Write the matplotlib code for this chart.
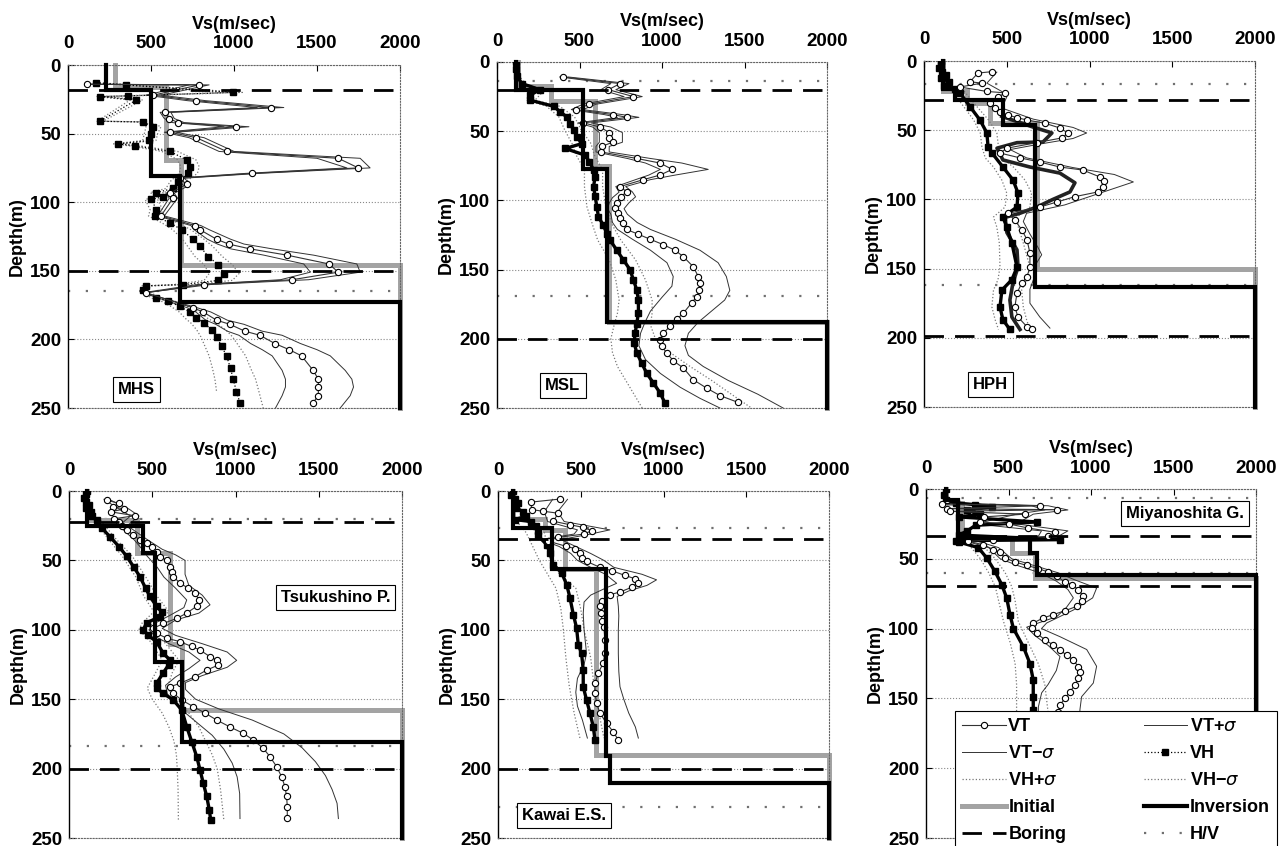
import matplotlib
matplotlib.use('Agg')
import matplotlib.pyplot as plt
from matplotlib.lines import Line2D

plt.rcParams['font.family'] = ['Liberation Sans', 'DejaVu Sans']
plt.rcParams['mathtext.fontset'] = 'dejavusans'

VS_TICKS = [0, 500, 1000, 1500, 2000]
DEPTH_TICKS = [0, 50, 100, 150, 200, 250]

# every curve is a list of (depth m, Vs m/s); step profiles are (layer top depth, Vs)

# ---------------- MHS ----------------
MHS_VT = [(14, 115), (14.5, 790), (22, 513), (26, 774), (31, 1220), (34.5, 587), (39, 609), (42, 663),
          (45, 1015), (49, 613), (53, 774), (63, 955), (68, 1628), (75, 1749), (79, 1111), (82.5, 673),
          (87, 714), (93.5, 613), (97, 633), (110, 560), (117, 764), (120, 794), (127, 895), (130.5, 967),
          (134, 1096), (138.6, 1320), (145, 1572), (151, 1628), (156.5, 1351), (160, 818), (166, 470),
          (177, 754), (180, 814), (186, 895), (189, 975), (194, 1065), (197, 1156), (203, 1246),
          (207.5, 1333), (212, 1407), (222.6, 1477), (229, 1508), (234.7, 1508), (241, 1508), (246, 1477)]
MHS_VTP = [(14, 130), (14.5, 850), (22, 560), (26, 830), (31, 1300), (34.5, 620), (39, 640), (42, 700),
           (45, 1090), (49, 650), (53, 820), (63, 1000), (68, 1760), (75, 1820), (79, 1150), (82.5, 700),
           (87, 740), (93.5, 640), (97, 660), (110, 580), (117, 800), (120, 850), (127, 980), (130.5, 1060),
           (134, 1230), (138.6, 1480), (145, 1740), (151, 1760), (156.5, 1450), (160, 860), (166, 460),
           (177, 780), (180, 860), (186, 960), (189, 1060), (194, 1170), (197, 1290), (203, 1400),
           (207.5, 1500), (212, 1580), (222.6, 1670), (229, 1710), (234.7, 1720), (241, 1700), (250, 1640)]
MHS_VTM = [(14, 100), (14.5, 730), (22, 470), (26, 720), (31, 1140), (34.5, 555), (39, 580), (42, 630),
           (45, 940), (49, 580), (53, 730), (63, 910), (68, 1500), (75, 1680), (79, 1070), (82.5, 645),
           (87, 690), (93.5, 590), (97, 610), (110, 540), (117, 740), (120, 760), (127, 840), (130.5, 900),
           (134, 980), (138.6, 1180), (145, 1420), (151, 1460), (156.5, 1280), (160, 780), (166, 450),
           (177, 720), (180, 770), (186, 830), (189, 890), (194, 960), (197, 1030), (203, 1100),
           (207.5, 1170), (212, 1230), (222.6, 1290), (229, 1310), (234.7, 1310), (241, 1290), (250, 1250)]
MHS_VH = [(13, 171), (14.5, 352), (20, 995), (22.5, 362), (23, 191), (25.5, 412), (41, 191), (41.5, 452),
          (45, 513), (50, 500), (55, 490), (57.5, 302), (59, 406), (63, 613), (69, 714), (74, 734), (79, 724),
          (85, 663), (90, 633), (93, 533), (96, 573), (98, 503), (105.6, 533), (110, 523), (115, 613),
          (120, 684), (127, 754), (132, 794), (139.6, 845), (145.6, 905), (152, 939), (157, 905), (160, 694),
          (161, 472), (164, 452), (170, 533), (172, 603), (176, 673), (180, 734), (184.5, 774), (188, 818),
          (193, 865), (198, 895), (205, 925), (212, 955), (221, 979), (229, 995), (238, 1015), (246, 1035)]
MHS_VHP = [(13, 190), (14.5, 390), (20, 1050), (22.5, 400), (23, 210), (25.5, 450), (41, 210), (41.5, 490),
           (45, 560), (50, 540), (55, 530), (57.5, 330), (59, 440), (63, 660), (69, 770), (74, 790), (79, 780),
           (85, 710), (90, 680), (93, 570), (96, 610), (98, 540), (105.6, 570), (110, 560), (115, 660),
           (120, 740), (127, 820), (132, 870), (139.6, 930), (145.6, 990), (152, 1030), (157, 990), (160, 750),
           (161, 500), (164, 470), (170, 560), (172, 640), (176, 720), (180, 790), (184.5, 840), (188, 890),
           (193, 950), (198, 990), (205, 1030), (212, 1070), (221, 1100), (229, 1130), (238, 1150), (250, 1176)]
MHS_VHM = [(13, 150), (14.5, 320), (20, 940), (22.5, 330), (23, 175), (25.5, 375), (41, 175), (41.5, 415),
           (45, 470), (50, 460), (55, 450), (57.5, 275), (59, 375), (63, 565), (69, 660), (74, 680), (79, 670),
           (85, 615), (90, 590), (93, 495), (96, 535), (98, 465), (105.6, 495), (110, 485), (115, 565),
           (120, 630), (127, 690), (132, 720), (139.6, 765), (145.6, 820), (152, 850), (157, 820), (160, 640),
           (161, 445), (164, 435), (170, 505), (172, 560), (176, 620), (180, 670), (184.5, 705), (188, 740),
           (193, 775), (198, 800), (205, 825), (212, 850), (221, 870), (229, 885), (238, 895)]
MHS_INIT = [(0, 281), (16, 593), (69, 683), (146, 2000)]
MHS_INV = [(0, 227), (18, 503), (81, 673), (173, 2000)]
MHS_BORING = [18, 150]
MHS_HV = [165]

# ---------------- MSL ----------------
MSL_VT = [(10.8, 403), (15.6, 746), (20, 675), (25, 827), (30.5, 560), (34.4, 480), (38, 700), (40, 790),
          (44, 524), (47, 625), (51, 680), (55, 680), (58, 700), (61, 635), (65, 631), (69.7, 847), (73, 988),
          (77.6, 1062), (81.7, 988), (85, 887), (90, 746), (93.8, 786), (97.4, 750), (101.7, 726),
          (105.8, 716), (109, 736), (113, 746), (116.6, 766), (121, 786), (124.5, 857), (128, 927),
          (132, 1008), (136, 1079), (140.6, 1129), (148, 1190), (155, 1220), (160, 1230), (164.7, 1226),
          (169.5, 1210), (174, 1180), (181.5, 1129), (186, 1089), (191, 1048), (196, 1008), (200.7, 988),
          (205.5, 998), (210, 1028), (216, 1069), (221, 1129), (229.6, 1190), (235.6, 1270), (241, 1351),
          (246, 1462)]
MSL_VTP = [(10.8, 430), (15.6, 800), (20, 720), (25, 880), (30.5, 600), (34.4, 520), (38, 760), (40, 860),
           (44, 570), (47, 690), (51, 760), (55, 760), (58, 760), (61, 680), (65, 680), (69.7, 930), (73, 1120),
           (77.6, 1280), (81.7, 1080), (85, 930), (90, 780), (93.8, 820), (97.4, 840), (101.7, 800), (106, 770),
           (110, 790), (116, 850), (121, 930), (128, 1080), (136, 1230), (145, 1340), (155, 1390), (165, 1411),
           (172, 1380), (180, 1300), (188, 1220), (196, 1160), (205, 1139), (212, 1160), (220, 1250),
           (230, 1400), (240, 1580), (250, 1734)]
MSL_VTM = [(10.8, 380), (15.6, 690), (20, 630), (25, 770), (30.5, 520), (34.4, 450), (38, 650), (40, 730),
           (44, 490), (47, 580), (51, 620), (55, 620), (58, 620), (61, 600), (65, 600), (69.7, 790), (73, 900),
           (77.6, 990), (81.7, 920), (85, 840), (90, 720), (94, 740), (98, 700), (102, 680), (106, 670),
           (110, 690), (116, 700), (121, 730), (128, 820), (136, 930), (145, 1030), (155, 1068), (162, 1060),
           (170, 1000), (180, 930), (188, 897), (196, 870), (205, 860), (215, 900), (225, 990), (235, 1110),
           (243, 1230), (250, 1351)]
MSL_VH = [(0, 117), (5, 117), (10, 120), (15.6, 151), (20, 260), (24, 200), (27.6, 202), (32, 343), (36, 383),
          (39.7, 423), (44.5, 444), (49, 464), (54, 484), (59, 514), (62.5, 413), (67.3, 534), (72, 560),
          (78, 585), (83, 595), (90, 585), (97, 595), (104.6, 605), (112, 615), (118, 645), (124, 665),
          (128.6, 685), (136, 726), (143, 766), (150, 806), (157.5, 827), (164.7, 847), (172, 857),
          (181.5, 857), (189, 847), (196, 837), (203, 831), (210, 847), (217.6, 877), (224.8, 907), (232, 948),
          (239, 988), (246.4, 1018)]
MSL_VHP = [(0, 130), (10, 135), (15.6, 170), (20, 290), (27.6, 230), (32, 380), (39.7, 470), (49, 510),
           (59, 570), (67.3, 590), (78, 640), (90, 640), (104.6, 660), (118, 700), (128.6, 750), (143, 840),
           (157.5, 900), (172, 940), (181.5, 940), (190, 930), (200, 960), (210, 1050), (220, 1170), (230, 1300),
           (240, 1420), (250, 1542)]
MSL_VHM = [(0, 105), (10, 108), (15.6, 135), (20, 230), (27.6, 180), (32, 300), (39.7, 375), (49, 410),
           (59, 455), (67.3, 480), (78, 530), (90, 530), (104.6, 545), (118, 580), (128.6, 610), (143, 680),
           (157.5, 720), (172, 740), (181.5, 730), (190, 710), (200, 690), (210, 700), (220, 730), (230, 780),
           (240, 830), (250, 880)]
MSL_INIT = [(0, 125), (17, 330), (28, 594), (75, 680), (188, 2000)]
MSL_INV = [(0, 117), (20, 524), (77, 665), (188, 2000)]
MSL_BORING = [20, 200]
MSL_HV = [14, 169]

# ---------------- HPH ----------------
HPH_VT = [(7.7, 411), (8.7, 326), (15, 278), (16, 350), (18.8, 217), (22, 380), (23, 489), (26, 450),
          (30, 399), (34, 429), (37, 459), (39, 507), (41, 562), (42.6, 622), (45, 731), (48.4, 821), (52, 870),
          (55.6, 833), (59, 680), (63, 501), (66.5, 459), (70, 580), (73, 700), (76.6, 821), (78.8, 960),
          (83.8, 1063), (87, 1090), (91, 1081), (94.6, 1051), (98, 912), (101.9, 803), (105.5, 700), (110, 507),
          (115, 549), (122, 591), (129, 622), (138.7, 640), (149, 640), (156, 622), (160.4, 591), (167.6, 562),
          (177.7, 549), (185, 568), (192, 622), (194, 652)]
HPH_VTP = [(8, 440), (16, 380), (22, 470), (26, 500), (34, 470), (42, 660), (48, 900), (52, 983), (56, 900),
           (60, 700), (64, 520), (70, 620), (77, 900), (82, 1150), (87.4, 1265), (92, 1150), (98, 1000),
           (104, 850), (110, 620), (116, 600), (125, 640), (135, 690), (140, 711), (146, 680), (155, 670),
           (165, 640), (175, 640), (185, 700), (193, 761)]
HPH_VTM = [(40, 470), (47.7, 658), (52, 773), (58.5, 719), (59, 562), (63, 441), (71.5, 477), (76.6, 640),
           (81, 821), (88, 912), (94.6, 882), (100, 779), (105.5, 682), (110, 580), (113, 490), (124, 501),
           (136.5, 562), (149, 568), (160, 538), (172.7, 519), (185, 531), (194, 580)]
HPH_VH = [(0, 100), (3, 100), (5, 90), (8, 110), (10, 130), (12, 100), (15, 150), (18, 120), (20, 190),
          (23, 217), (33, 278), (42.6, 338), (52, 380), (62, 387), (66.5, 411), (76.6, 477), (86, 538),
          (95.4, 568), (105.5, 562), (112.7, 477), (120, 500), (131.5, 531), (149, 562), (158, 531),
          (165.5, 471), (177.7, 459), (187, 477), (194, 519)]
HPH_VHP = [(20, 230), (33, 320), (42.6, 390), (52, 440), (62, 450), (70, 470), (76.6, 540), (86, 610),
           (95.4, 650), (105.5, 640), (112.7, 560), (120, 570), (131.5, 600), (149, 640), (158, 620),
           (165.5, 590), (177.7, 600), (187, 620), (194, 640)]
HPH_VHM = [(20, 160), (33, 240), (42.6, 300), (52, 340), (62, 350), (70, 370), (76.6, 420), (86, 470),
           (95.4, 500), (105.5, 490), (112.7, 420), (120, 440), (131.5, 455), (149, 459), (158, 447),
           (165.5, 420), (177.7, 410), (187, 430), (194, 450)]
HPH_INIT = [(0, 117), (22, 260), (30, 400), (45, 680), (150, 2000)]
HPH_INV = [(0, 117), (20, 187), (28.5, 480), (46.5, 671), (163, 2000)]
HPH_BORING = [28, 199]
HPH_HV = [16.4, 161.5]

# ---------------- Tsukushino P. ----------------
TSU_VT = [(6.5, 226), (9, 300), (11.3, 266), (13, 330), (15, 250), (17.8, 396), (20, 270), (22, 300),
          (25, 320), (28, 346), (31.7, 386), (35.3, 426), (37.7, 466), (40, 497), (43.7, 527), (47.3, 547),
          (50, 587), (54.5, 607), (58, 617), (61.7, 627), (66.5, 667), (70, 717), (73.7, 757), (78.5, 781),
          (83, 767), (88, 707), (91.8, 647), (95.4, 567), (99, 506), (102.6, 526), (106, 587), (108.6, 667),
          (112, 737), (114.6, 787), (119.4, 847), (121.8, 887), (125.4, 897), (129, 827), (133.8, 757),
          (138.6, 667), (141, 607), (145.8, 627), (150.6, 677), (155.4, 747), (160, 817), (165, 887),
          (170, 967), (174.6, 1047), (179.4, 1107), (185.4, 1167), (191.4, 1207), (198.6, 1247), (205.9, 1277),
          (213, 1297), (220, 1307), (227.5, 1311), (235.9, 1311)]
TSU_VTP = [(6, 240), (13, 360), (18, 420), (25, 350), (35, 470), (42, 560), (46, 640), (50, 697), (60, 697),
           (68, 720), (75, 800), (82, 847), (88, 780), (93, 640), (99, 560), (104, 640), (110, 800), (116, 950),
           (122, 1007), (127, 950), (133, 800), (138, 700), (143, 700), (150, 760), (157, 900), (165, 1100),
           (175, 1290), (185, 1400), (195, 1480), (205, 1540), (215, 1580), (225, 1610), (236, 1618)]
TSU_VTM = [(6, 210), (13, 300), (18, 370), (25, 300), (35, 390), (42, 440), (47, 470), (55, 530), (62, 570),
           (70, 640), (78.5, 707), (84, 690), (90, 600), (95, 520), (100, 480), (105, 520), (110, 600),
           (116, 720), (122, 787), (128, 720), (134, 640), (140, 580), (146, 590), (152, 630), (160, 700),
           (168, 780), (176, 860), (186, 930), (196, 980), (206, 1010), (218, 1025), (236, 1027)]
TSU_VH = [(0, 110), (2, 100), (5, 90), (8, 100), (10, 120), (12, 100), (15, 130), (18, 140), (21, 166),
          (27, 200), (33, 246), (40, 300), (47, 346), (55, 390), (61.7, 426), (70, 460), (76, 486), (83, 526),
          (87, 556), (90.5, 546), (95, 466), (100, 446), (104, 476), (108.6, 526), (117, 566), (121.8, 607),
          (125, 600), (131, 566), (138.6, 526), (142, 526), (145.8, 566), (150.6, 627), (157.8, 677),
          (169.8, 707), (180.6, 737), (191.4, 767), (201, 787), (210.7, 807), (220, 827), (230, 843), (237, 851)]
TSU_VHP = [(21, 190), (33, 270), (47, 380), (61.7, 460), (76, 530), (87, 600), (95, 500), (100, 480),
           (108.6, 570), (121.8, 660), (131, 620), (142, 590), (150, 640), (160, 720), (170, 780), (180, 820),
           (190, 860), (200, 890), (215, 910), (237, 930)]
TSU_VHM = [(21, 150), (33, 225), (47, 320), (61.7, 400), (76, 450), (87, 510), (95, 440), (100, 420),
           (108.6, 490), (121.8, 560), (131, 520), (142, 470), (150, 500), (160, 560), (170, 600), (180, 630),
           (190, 645), (200, 650), (215, 655), (237, 657)]
TSU_INIT = [(0, 110), (21, 406), (45, 607), (110, 677), (158, 2000)]
TSU_INV = [(0, 110), (25, 446), (45, 516), (123, 677), (180.6, 2000)]
TSU_BORING = [22, 200]
TSU_HV = [20.4, 184]

# ---------------- Kawai E.S. ----------------
KAW_VT = [(5.8, 374), (8, 200), (13.4, 203), (14.6, 274), (16, 364), (21.8, 334), (24.3, 435), (26.2, 515),
          (28.6, 566), (31, 520), (33.4, 364), (36, 300), (39.9, 413), (41.5, 465), (44.7, 495), (48.3, 505),
          (50.7, 535), (55, 616), (57.4, 686), (60.8, 767), (63.2, 827), (66.3, 843), (69.4, 807), (72.8, 737),
          (74.7, 676), (79.5, 626), (83, 616), (87.9, 622), (93.9, 630), (97.8, 640), (107, 646), (117, 646),
          (124, 636), (131, 606), (138.6, 586), (145.8, 586), (153, 596), (160, 616), (167.4, 656),
          (173.4, 696), (179.4, 727)]
KAW_VTP = [(6, 420), (15, 360), (22, 400), (28, 676), (31, 560), (35, 380), (40, 470), (45, 560), (50, 640),
           (55, 700), (60, 870), (64, 958), (68, 900), (72, 790), (76, 720), (83, 727), (90, 730), (100, 727),
           (117, 727), (130, 730), (141, 737), (150, 760), (160, 790), (170, 830), (178, 848)]
KAW_VTM = [(6, 330), (15, 280), (22, 300), (28, 480), (31, 460), (35, 260), (40, 370), (45, 440), (50, 480),
           (55, 560), (60, 650), (66.5, 717), (70, 650), (75, 560), (80, 520), (88, 515), (100, 520),
           (117, 535), (125, 520), (135, 480), (145, 470), (155, 480), (165, 510), (178, 540)]
KAW_VH = [(0, 89), (3, 80), (6, 100), (9, 120), (12, 110), (15, 150), (18, 170), (20.6, 103), (22, 200),
          (25, 230), (29, 243), (32, 240), (38.6, 294), (45, 314), (53, 334), (59, 385), (67.5, 415), (77, 435),
          (89, 455), (98.7, 475), (110.8, 485), (117, 505), (129, 515), (141, 515), (150.6, 535), (160, 556),
          (170, 576), (179.4, 586)]
KAW_VHP = [(20, 140), (30, 280), (40, 300), (50, 330), (60, 370), (70, 470), (85, 500), (100, 520),
           (120, 560), (140, 580), (160, 610), (178, 640)]
KAW_VHM = [(20, 100), (30, 170), (40, 210), (50, 250), (60, 300), (70, 350), (85, 380), (100, 395),
           (120, 410), (140, 430), (160, 460), (178, 495)]
KAW_INIT = [(0, 89), (20, 284), (28, 405), (56, 590), (190, 2000)]
KAW_INV = [(0, 89), (27, 324), (56.5, 650), (191, 676), (210.7, 2000)]
KAW_BORING = [34.5, 200]
KAW_HV = [27, 228]

# ---------------- Miyanoshita G. ----------------
MIY_VT = [(8, 130), (10.7, 95), (12, 691), (14.1, 125), (14.8, 792), (16, 145), (18, 600), (20, 350),
          (23.6, 327), (25, 500), (27.9, 618), (31, 782), (33.9, 741), (36.3, 408), (37.5, 257), (39.9, 347),
          (43.4, 408), (45.4, 448), (49.4, 479), (52.3, 539), (54.7, 610), (57, 681), (59.5, 741), (62.5, 792),
          (66.6, 842), (68.5, 883), (72.1, 923), (76.9, 954), (80.5, 943), (84.1, 913), (87.2, 842), (90, 771),
          (92.4, 710), (96, 650), (99.8, 640), (103.4, 671), (108, 721), (111.8, 772), (115.3, 812), (119, 852),
          (122.5, 893), (127.3, 923), (130.9, 933), (135.6, 923), (140.4, 903), (145.2, 873), (150, 842),
          (154.7, 812), (160, 802), (170, 800)]
MIY_VTP = [(10, 110), (12, 740), (15, 860), (18, 650), (25, 550), (30, 860), (34, 800), (37, 300), (42, 440),
           (50, 520), (55, 660), (60, 800), (65, 900), (71, 1034), (78, 1010), (86.7, 893), (96, 731),
           (100, 700), (105.8, 812), (115, 974), (127, 1034), (139, 1014), (148.8, 943), (158, 933), (170, 930)]
MIY_VTM = [(10, 85), (12, 640), (15, 720), (18, 550), (25, 300), (30, 700), (34, 680), (37, 230), (42, 380),
           (50, 450), (55, 560), (60, 690), (66, 790), (72, 860), (78, 893), (85, 850), (91.5, 792), (96, 680),
           (99, 610), (105, 660), (112, 740), (120, 812), (130, 790), (140, 740), (146, 701), (156, 681),
           (170, 680)]
MIY_VH = [(0, 121), (4, 110), (8, 120), (10, 180), (11.2, 297), (13, 400), (15, 250), (18, 330), (20, 200),
          (23.6, 671), (26, 300), (30, 250), (33, 200), (36.3, 812), (37, 180), (38, 200), (42, 317),
          (49.4, 368), (59, 418), (68.5, 459), (78, 489), (90, 509), (100, 530), (113, 590), (125, 630),
          (136.8, 650), (148.8, 650), (158.3, 650), (170, 650)]
MIY_VHP = [(40, 340), (50, 420), (60, 480), (70, 520), (80, 540), (95, 560), (110, 620), (125, 680),
           (140, 720), (160, 740)]
MIY_VHM = [(40, 260), (50, 330), (60, 380), (70, 420), (80, 440), (95, 470), (110, 510), (125, 540),
           (140, 549), (160, 549)]
MIY_INIT = [(0, 121), (10, 218), (35, 519), (45.8, 660), (64, 2000)]
MIY_INV = [(0, 121), (8, 194), (35, 630), (45.8, 671), (61.8, 2000)]
MIY_BORING = [34, 69.5]
MIY_HV = [6.5, 60.5]

SITES = [
    dict(name='MHS', vt=MHS_VT, vtp=MHS_VTP, vtm=MHS_VTM, vh=MHS_VH, vhp=MHS_VHP, vhm=MHS_VHM,
         init=MHS_INIT, inv=MHS_INV, boring=MHS_BORING, hv=MHS_HV),
    dict(name='MSL', vt=MSL_VT, vtp=MSL_VTP, vtm=MSL_VTM, vh=MSL_VH, vhp=MSL_VHP, vhm=MSL_VHM,
         init=MSL_INIT, inv=MSL_INV, boring=MSL_BORING, hv=MSL_HV),
    dict(name='HPH', vt=HPH_VT, vtp=HPH_VTP, vtm=HPH_VTM, vh=HPH_VH, vhp=HPH_VHP, vhm=HPH_VHM,
         init=HPH_INIT, inv=HPH_INV, boring=HPH_BORING, hv=HPH_HV),
    dict(name='Tsukushino P.', vt=TSU_VT, vtp=TSU_VTP, vtm=TSU_VTM, vh=TSU_VH, vhp=TSU_VHP, vhm=TSU_VHM,
         init=TSU_INIT, inv=TSU_INV, boring=TSU_BORING, hv=TSU_HV),
    dict(name='Kawai E.S.', vt=KAW_VT, vtp=KAW_VTP, vtm=KAW_VTM, vh=KAW_VH, vhp=KAW_VHP, vhm=KAW_VHM,
         init=KAW_INIT, inv=KAW_INV, boring=KAW_BORING, hv=KAW_HV),
    dict(name='Miyanoshita G.', vt=MIY_VT, vtp=MIY_VTP, vtm=MIY_VTM, vh=MIY_VH, vhp=MIY_VHP, vhm=MIY_VHM,
         init=MIY_INIT, inv=MIY_INV, boring=MIY_BORING, hv=MIY_HV),
]

# axes boxes in pixels (left, top, right, bottom) and label box position in axes fraction
W, H = 1284, 846
AX_PX = [(68, 65, 400, 408), (497, 62, 827, 408), (924, 61, 1255, 407),
         (69, 491, 402, 838), (498, 491, 829, 838), (926, 489, 1256, 838)]
NAME_POS = [(0.205, 0.055), (0.2, 0.065), (0.2, 0.065), (0.80, 0.693), (0.20, 0.065), (0.786, 0.931)]

VT_STYLE = dict(color='#333333', lw=0.8, marker='o', ms=4.5, mfc='white', mec='black', mew=0.8)
SIG_STYLE = dict(color='#333333', lw=0.7)
VH_STYLE = dict(color='black', marker='s', ms=3.8, mfc='black', mec='black')
VHS_STYLE = dict(color='#777777', lw=0.9, ls=':')
INIT_STYLE = dict(color='#a3a3a3', lw=3.6, solid_joinstyle='miter')
INV_STYLE = dict(color='black', lw=3.0, solid_joinstyle='miter')
BOR_STYLE = dict(color='black', lw=2.0, dashes=(7, 4))
HV_STYLE = dict(color='#707070', lw=1.6, dashes=(1.0, 7))


def xy(pts):
    return [p[1] for p in pts], [p[0] for p in pts]


def steps(layers, bottom=250):
    xs, ys = [], []
    for i, (top, v) in enumerate(layers):
        base = layers[i + 1][0] if i + 1 < len(layers) else bottom
        xs += [v, v]
        ys += [top, base]
    return xs, ys


fig = plt.figure(figsize=(W / 100, H / 100), dpi=100)

for site, (l, t, r, b), npos in zip(SITES, AX_PX, NAME_POS):
    ax = fig.add_axes([l / W, 1 - b / H, (r - l) / W, (b - t) / H])

    for d in site['hv']:
        ax.axhline(d, zorder=1, **HV_STYLE)
    ax.plot(*steps(site['init']), zorder=2, clip_on=False, **INIT_STYLE)
    ax.plot(*xy(site['vhp']), zorder=3, **VHS_STYLE)
    ax.plot(*xy(site['vhm']), zorder=3, **VHS_STYLE)
    ax.plot(*xy(site['vtp']), zorder=3, **SIG_STYLE)
    vtm_lw = 2.6 if site['name'] == 'HPH' else 0.7
    ax.plot(*xy(site['vtm']), zorder=3, color='#222222' if vtm_lw > 1 else '#333333', lw=vtm_lw)
    if site['name'] == 'MHS':
        ax.plot(*xy(site['vh']), zorder=4, lw=0.9, ls=':', **VH_STYLE)
    else:
        ax.plot(*xy(site['vh']), zorder=4, lw=2.4, **VH_STYLE)
    ax.plot(*xy(site['vt']), zorder=5, **VT_STYLE)
    ax.plot(*steps(site['inv']), zorder=6, clip_on=False, **INV_STYLE)
    for d in site['boring']:
        ax.axhline(d, zorder=7, **BOR_STYLE)

    ax.set_xlim(0, 2000)
    ax.set_ylim(250, 0)
    ax.set_xticks(VS_TICKS)
    ax.set_yticks(DEPTH_TICKS)
    ax.xaxis.tick_top()
    ax.xaxis.set_label_position('top')
    ax.set_xlabel('Vs(m/sec)', fontsize=13, fontweight='bold', labelpad=5)
    ax.set_ylabel('Depth(m)', fontsize=13, fontweight='bold', labelpad=3)
    ax.tick_params(axis='x', direction='in', length=4, pad=9, labelsize=13.5)
    ax.tick_params(axis='y', direction='in', length=4, pad=5, labelsize=13.5)
    for lab in ax.get_xticklabels() + ax.get_yticklabels():
        lab.set_fontweight('bold')
    ax.grid(axis='y', ls=':', color='#888888', lw=0.8)
    for side in ('top', 'right', 'bottom'):
        ax.spines[side].set_linestyle(':')
        ax.spines[side].set_color('#666666')
    ax.spines['left'].set_color('black')
    ax.spines['left'].set_linewidth(1.0)

    ax.text(npos[0], npos[1], site['name'], transform=ax.transAxes, ha='center', va='center',
            fontsize=12, fontweight='bold', zorder=10,
            bbox=dict(boxstyle='square,pad=0.3', fc='white', ec='black', lw=0.8))

handles = [
    Line2D([], [], **VT_STYLE),
    Line2D([], [], **SIG_STYLE),
    Line2D([], [], **VHS_STYLE),
    Line2D([], [], **INIT_STYLE),
    Line2D([], [], **BOR_STYLE),
    Line2D([], [], **SIG_STYLE),
    Line2D([], [], lw=0.9, ls=':', **VH_STYLE),
    Line2D([], [], **VHS_STYLE),
    Line2D([], [], **INV_STYLE),
    Line2D([], [], **HV_STYLE),
]
labels = ['VT', 'VT\u2212$\\sigma$', 'VH+$\\sigma$', 'Initial', 'Boring',
          'VT+$\\sigma$', 'VH', 'VH\u2212$\\sigma$', 'Inversion', 'H/V']
leg = fig.legend(handles, labels, loc='upper left', ncol=2, mode='expand',
                 bbox_to_anchor=(955 / W, 0, 322 / W, 1 - 711 / H), borderaxespad=0,
                 handlelength=2.4, handletextpad=0.15, labelspacing=0.55,
                 columnspacing=1.0, borderpad=0.4, fancybox=False, framealpha=1,
                 edgecolor='black', prop={'weight': 'bold', 'size': 13})
leg.get_frame().set_linewidth(0.8)

fig.savefig('out.png', dpi=100, facecolor='white')
